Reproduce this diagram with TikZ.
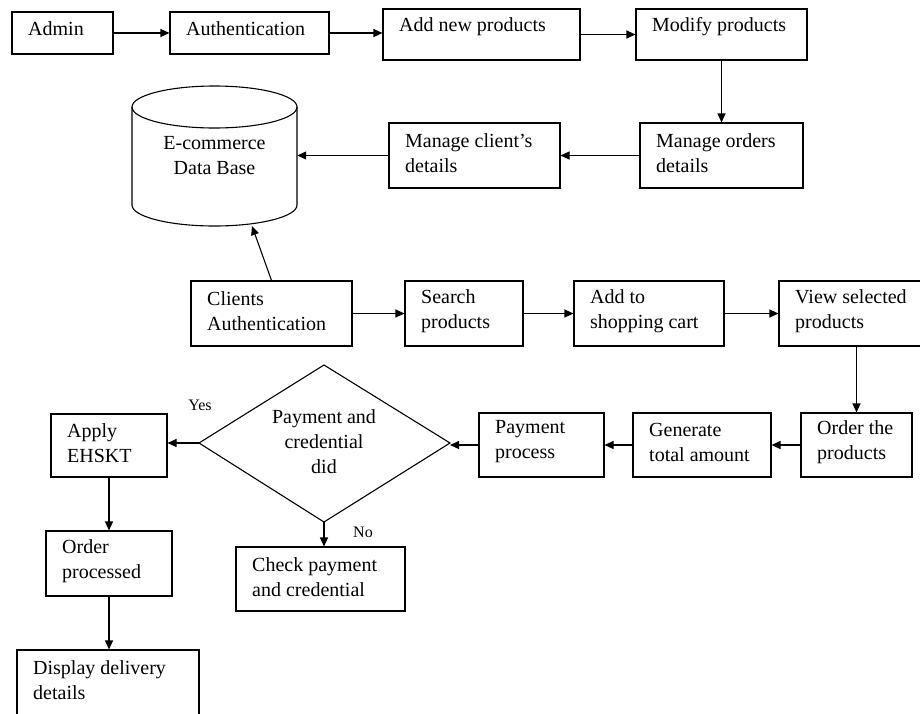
\documentclass[tikz,border=0pt]{standalone}
\usepackage{fontspec}
\setmainfont{Liberation Serif}
\usetikzlibrary{arrows.meta,calc}
\newcommand\flowbox[7]{%
  \node[bx, minimum width=#4pt-#2pt, minimum height=#5pt-#3pt] (#1) at ({(#2+#4)/2},{(#3+#5)/2}) {};
  \node[tx] (#1t) at (#2+16,#6) {#7};}
\begin{document}
\begin{tikzpicture}[x=1pt,y=-1pt,
  bx/.style={draw, line width=1.1pt, inner sep=0pt},
  tx/.style={anchor=west, align=left, inner sep=0pt, font=\fontsize{20}{25}\selectfont},
  arr/.style={-{Triangle[length=9pt,width=8pt]}, line width=1.1pt},
  lb/.style={font=\fontsize{16}{19}\selectfont, inner sep=0pt}]
\useasboundingbox (0,0) rectangle (920,713);
\clip (0,0) rectangle (920,713);
\fill[white] (0,0) rectangle (920,713);
% row 1
\flowbox{admin}{12}{12}{113}{54}{29}{Admin}
\flowbox{auth}{170}{12}{329}{54}{29}{Authentication}
\flowbox{addp}{383}{9}{580}{60}{27}{Add new products}
\flowbox{modp}{636}{9}{807}{60}{27}{Modify products}
% row 2
\flowbox{mord}{640}{123}{803}{188}{153}{Manage orders\\details}
\flowbox{mcli}{389}{123}{560}{188}{153}{Manage client’s\\details}
% database
\node[minimum width=165pt, minimum height=140pt, inner sep=0pt, align=center,
      font=\fontsize{20}{25}\selectfont] (db) at (214.5,156) {E-commerce\\Data Base};
\draw[line width=1.1pt] (214.5,107) ellipse [x radius=82.5pt, y radius=21pt];
\draw[line width=1.1pt] (132,107) -- (132,205) arc[start angle=180, end angle=360, x radius=82.5pt, y radius=21pt] -- (297,107);
\coordinate (dbb) at (252,226);
% row 3
\flowbox{cauth}{191}{281}{352}{346}{311}{Clients\\Authentication}
\flowbox{srch}{405}{281}{523}{346}{311}{Search\\products}
\flowbox{cart}{574}{281}{724}{346}{311}{Add to\\shopping cart}
\flowbox{view}{779}{281}{930}{346}{311}{View selected\\products}
% row 4
\flowbox{ordp}{801}{413}{912}{477}{442}{Order the\\products}
\flowbox{gen}{633}{413}{771}{477}{442}{Generate\\total amount}
\flowbox{pay}{479}{413}{604}{477}{442}{Payment\\process}
% diamond
\coordinate (dl) at (199,443);
\coordinate (dt) at (324,365);
\coordinate (dr) at (450,443);
\coordinate (dbot) at (324,522);
\draw[line width=1.1pt] (dl) -- (dt) -- (dr) -- (dbot) -- cycle;
\node[align=center, inner sep=0pt, font=\fontsize{20}{25}\selectfont] (dm) at (324,442) {Payment and\\credential\\did};
\flowbox{apply}{51}{414}{167}{477}{443}{Apply\\EHSKT}
\flowbox{oproc}{46}{531}{172}{596}{561}{Order\\processed}
\flowbox{chk}{236}{547}{405}{611}{577}{Check payment\\and credential}
\flowbox{disp}{17}{650}{199}{730}{680}{Display delivery\\details}
\node[lb] (yes) at (200,405) {Yes};
\node[lb] (no) at (363,532) {No};
% connectors
\draw[arr] (admin.east) -- (auth.west);
\draw[arr] (auth.east) -- (auth.east -| addp.west);
\draw[arr] (addp.east) -- (modp.west);
\draw[arr] (modp.south) -- (modp.south |- mord.north);
\draw[arr] (mord.west) -- (mord.west -| mcli.east);
\draw[arr] (mcli.west) -- (mcli.west -| db.east);
\draw[arr] (cauth.north) -- (dbb);
\draw[arr] (cauth.east) -- (srch.west);
\draw[arr] (srch.east) -- (cart.west);
\draw[arr] (cart.east) -- (view.west);
\draw[arr] (view.south -| ordp.north) -- (ordp.north);
\draw[arr] (ordp.west) -- (gen.east);
\draw[arr] (gen.west) -- (pay.east);
\draw[arr] (pay.west) -- (pay.west -| dr);
\draw[arr] (dl) -- (apply.east |- dl);
\draw[arr] (dbot) -- (chk.north -| dbot);
\draw[arr] (apply.south) -- (apply.south |- oproc.north);
\draw[arr] (oproc.south) -- (oproc.south |- disp.north);
\end{tikzpicture}
\end{document}
